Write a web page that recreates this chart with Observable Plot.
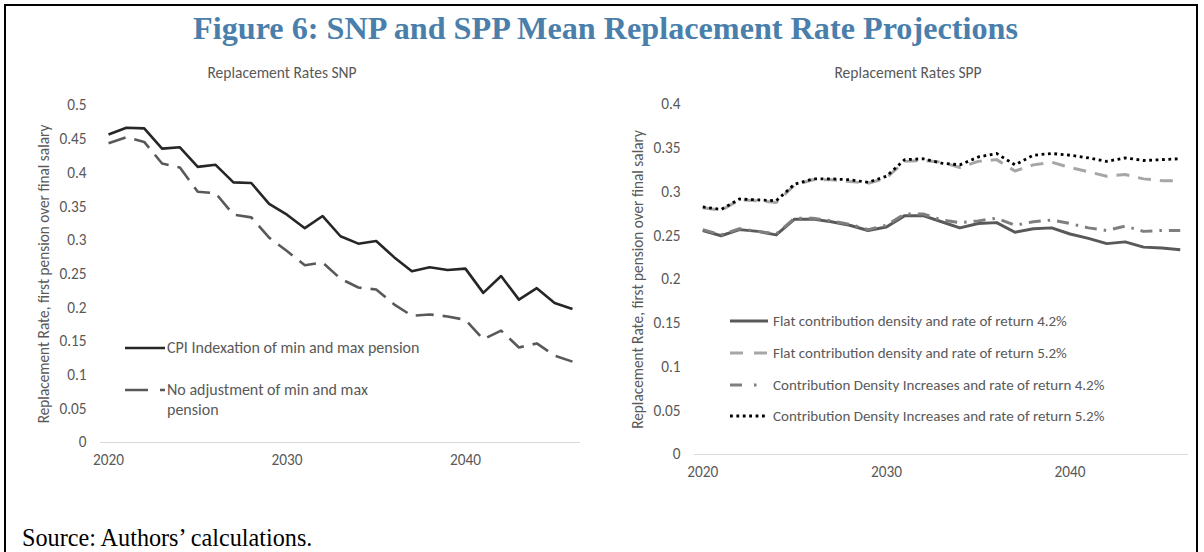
<!DOCTYPE html>
<html><head><meta charset="utf-8">
<script src="https://cdn.jsdelivr.net/npm/d3@7"></script>
<script src="https://cdn.jsdelivr.net/npm/@observablehq/plot@0.6"></script>
<style>
html,body{margin:0;padding:0;background:#fff;width:1204px;height:552px;overflow:hidden;position:relative}
#frame{position:absolute;left:4px;top:4px;width:1194px;height:600px;border:2px solid #000;box-sizing:border-box}
#title{position:absolute;left:0;width:1211px;top:10px;line-height:32px;text-align:center;font:bold 32.2px "Liberation Serif","Times New Roman",serif;color:#4a7fab;white-space:nowrap}
.ctitle{position:absolute;top:63px;line-height:19px;font:15.5px Carlito,Lato,sans-serif;color:#595959;transform:translateX(-50%);white-space:nowrap}
#left,#right{position:absolute;top:90px}
#left{left:0}
#right{left:600px}
.leg{position:absolute;font-family:Carlito,Lato,sans-serif;color:#595959;line-height:20px;white-space:nowrap}
.leg svg{position:absolute;left:0;top:0;overflow:visible}
#caption{position:absolute;left:22px;top:524px;line-height:26px;font:24.2px "Liberation Serif","Times New Roman",serif;color:#000;white-space:nowrap}
</style>
</head>
<body>
<div id="frame"></div>
<div id="title">Figure 6: SNP and SPP Mean Replacement Rate Projections</div>
<div class="ctitle" style="left:282px">Replacement Rates SNP</div>
<div class="ctitle" style="left:908px">Replacement Rates SPP</div>
<div id="left"></div>
<div id="right"></div>
<div id="legL"></div>
<div id="legR"></div>
<div id="caption">Source: Authors’ calculations.</div>
<script>
// ---- data ----
const years = [2020,2021,2022,2023,2024,2025,2026,2027,2028,2029,2030,2031,2032,2033,2034,2035,2036,2037,2038,2039,2040,2041,2042,2043,2044,2045,2046];
const xTickYears = [2020, 2030, 2040];
const yTicksSNP = [0,0.05,0.1,0.15,0.2,0.25,0.3,0.35,0.4,0.45,0.5];
const yTicksSPP = [0,0.05,0.1,0.15,0.2,0.25,0.3,0.35,0.4];

const snpNames = ["CPI Indexation of min and max pension", "No adjustment of min and max pension"];
const snpCPI   = [0.457,0.467,0.466,0.436,0.438,0.409,0.412,0.386,0.385,0.354,0.338,0.318,0.336,0.306,0.295,0.299,0.275,0.254,0.260,0.256,0.258,0.222,0.247,0.212,0.229,0.207,0.198];
const snpNoAdj = [0.444,0.453,0.446,0.414,0.408,0.372,0.370,0.338,0.334,0.304,0.284,0.263,0.267,0.243,0.230,0.227,0.205,0.188,0.190,0.187,0.182,0.153,0.166,0.141,0.147,0.129,0.120];

const sppNames = ["Flat contribution density and rate of return 4.2%", "Flat contribution density and rate of return 5.2%", "Contribution Density Increases and rate of return 4.2%", "Contribution Density Increases and rate of return 5.2%"];
const sppFlat42 = [0.256,0.250,0.257,0.255,0.251,0.269,0.269,0.266,0.262,0.256,0.260,0.273,0.273,0.266,0.259,0.264,0.265,0.254,0.258,0.259,0.252,0.247,0.241,0.243,0.237,0.236,0.234];
const sppFlat52 = [0.282,0.279,0.291,0.290,0.288,0.308,0.314,0.314,0.312,0.310,0.316,0.335,0.336,0.334,0.328,0.335,0.337,0.324,0.331,0.334,0.328,0.323,0.318,0.320,0.315,0.313,0.313];
const sppCDI42  = [0.257,0.251,0.258,0.255,0.252,0.270,0.270,0.267,0.263,0.257,0.262,0.275,0.275,0.268,0.265,0.267,0.270,0.262,0.266,0.268,0.264,0.259,0.256,0.261,0.255,0.256,0.256];
const sppCDI52  = [0.283,0.280,0.292,0.291,0.290,0.309,0.315,0.315,0.314,0.311,0.318,0.337,0.338,0.333,0.331,0.340,0.344,0.331,0.342,0.344,0.342,0.339,0.335,0.339,0.336,0.337,0.338];

// ---- styles ----
const snpStyles = [
  {stroke:"#262626", strokeWidth:2.6, dash:null, legDash:null},
  {stroke:"#595959", strokeWidth:2.6, dash:"18,9", legDash:"23,12"}
];
const sppStyles = [
  {stroke:"#595959", strokeWidth:3, dash:null, legDash:null},
  {stroke:"#a6a6a6", strokeWidth:3, dash:"13,9", legDash:"13,11"},
  {stroke:"#7f7f7f", strokeWidth:3, dash:"12,7,2.5,7", legDash:"12,12,2.5,20"},
  {stroke:"#000000", strokeWidth:2.8, dash:"2.8,3.6", legDash:"2.8,3.6"}
];

const rows = (vals) => years.map((y, i) => ({year: y, value: vals[i]}));
const fmt = d => String(+d.toFixed(2));
const font = "Carlito, Lato, sans-serif";

function chart(seriesVals, styles, opts) {
  return Plot.plot({
    width: 600, height: 400,
    marginLeft: opts.ml, marginRight: opts.mr, marginTop: opts.mt, marginBottom: opts.mb,
    style: {fontFamily: font, fontSize: "15.3px", color: "#595959", background: "transparent", overflow: "visible"},
    x: {domain: [2019.55, 2046.45], ticks: xTickYears, tickFormat: d => String(d), tickSize: 0, tickPadding: 12, label: null},
    y: {domain: opts.yDomain, ticks: opts.yTicks, tickFormat: fmt, tickSize: 0, tickPadding: 14,
        label: "Replacement Rate, first pension over final salary", labelAnchor: "center", labelArrow: "none", labelOffset: opts.lo},
    marks: [
      Plot.ruleY([0], {stroke: "#d9d9d9", strokeWidth: 1.2}),
      ...seriesVals.map((vals, i) => Plot.line(rows(vals), {
        x: "year", y: "value", stroke: styles[i].stroke, strokeWidth: styles[i].strokeWidth,
        strokeDasharray: styles[i].dash, strokeLinejoin: "round", strokeLinecap: "butt"
      }))
    ]
  });
}

document.getElementById("left").append(chart([snpCPI, snpNoAdj], snpStyles,
  {ml: 100, mr: 20, mt: 15, mb: 48, yDomain: [0, 0.5], yTicks: yTicksSNP, lo: 62}));
document.getElementById("right").append(chart([sppFlat42, sppFlat52, sppCDI42, sppCDI52], sppStyles,
  {ml: 94, mr: 12, mt: 14, mb: 36, yDomain: [0, 0.4], yTicks: yTicksSPP, lo: 62}));

// ---- legends ----
function legendItem(parent, x, y, len, gap, size, style, dash, text) {
  const d = document.createElement("div");
  d.className = "leg";
  d.style.left = x + "px"; d.style.top = (y - 10) + "px"; d.style.fontSize = size + "px";
  const ns = "http://www.w3.org/2000/svg";
  const svg = document.createElementNS(ns, "svg");
  svg.setAttribute("width", len); svg.setAttribute("height", 20);
  const l = document.createElementNS(ns, "line");
  l.setAttribute("x1", 0); l.setAttribute("x2", len); l.setAttribute("y1", 10); l.setAttribute("y2", 10);
  l.setAttribute("stroke", style.stroke); l.setAttribute("stroke-width", style.strokeWidth);
  if (dash) l.setAttribute("stroke-dasharray", dash);
  svg.append(l);
  d.append(svg);
  const t = document.createElement("div");
  t.style.position = "absolute"; t.style.left = (len + gap) + "px"; t.style.top = "0px";
  t.innerHTML = text;
  d.append(t);
  parent.append(d);
}
const legL = document.getElementById("legL");
legendItem(legL, 125, 348, 40, 2, 16, snpStyles[0], snpStyles[0].legDash, snpNames[0]);
legendItem(legL, 125, 390, 40, 2, 16, snpStyles[1], snpStyles[1].legDash, "No adjustment of min and max<br>pension");
const legR = document.getElementById("legR");
[321, 353, 385, 416].forEach((y, i) => legendItem(legR, 730, y, 38, 5, 15, sppStyles[i], sppStyles[i].legDash, sppNames[i]));
</script>
</body></html>
